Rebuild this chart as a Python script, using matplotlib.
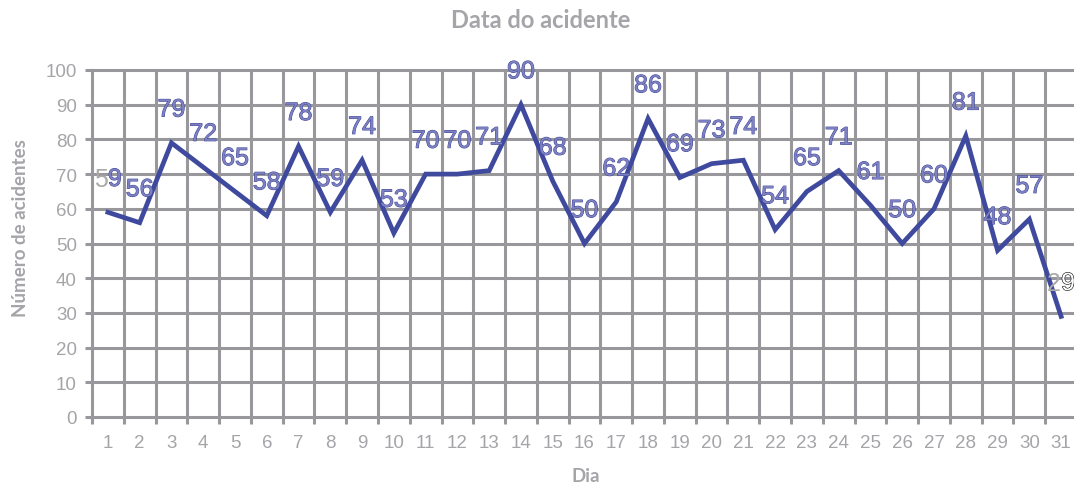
import matplotlib
matplotlib.use("Agg")
import matplotlib.pyplot as plt
import matplotlib.patheffects as pe
import numpy as np

# dados
dias = list(range(1, 32))
acidentes = [59, 56, 79, 72, 65, 58, 78, 59, 74, 53, 70, 70, 71, 90, 68, 50,
             62, 86, 69, 73, 74, 54, 65, 71, 61, 50, 60, 81, 48, 57, 29]
y_ticks = [0, 10, 20, 30, 40, 50, 60, 70, 80, 90, 100]

grid_col = '#98989c'
text_col = '#a5a5a9'
line_col = '#3f4a9e'
lab_fill = '#7d81c2'
lab_edge = '#3d4494'

fig = plt.figure(figsize=(10.74, 4.85), dpi=100)
ax = fig.add_axes([92 / 1074, 67 / 485, 985 / 1074, 347 / 485])

ax.plot(dias, acidentes, color=line_col, linewidth=3.4, solid_joinstyle='miter', zorder=3)

ax.set_xlim(0.5, 31.5)
ax.set_ylim(0, 100)
ax.set_yticks(y_ticks)
ax.set_xticks(dias)
ax.set_xticks(np.arange(0.5, 31.6, 1), minor=True)

ax.grid(False)
for v in y_ticks:
    ax.axhline(v, color=grid_col, linewidth=2.2, zorder=1, clip_on=False)
for v in np.arange(0.5, 31.6, 1):
    ax.axvline(v, color=grid_col, linewidth=2.2, zorder=1, clip_on=False)

for s in ax.spines.values():
    s.set_visible(False)

ax.tick_params(axis='x', which='major', length=0, pad=12, labelsize=13.5, labelcolor=text_col)
ax.tick_params(axis='x', which='minor', length=5, width=2.2, color=grid_col)
ax.tick_params(axis='y', length=5, width=2.2, color=grid_col, pad=6, labelsize=13.5, labelcolor=text_col)
for lab in ax.get_xticklabels() + ax.get_yticklabels():
    lab.set_family('Liberation Sans')

effects = [pe.Stroke(linewidth=0.7, foreground=lab_edge), pe.Normal()]
off = 24
fs = 18
for i, (d, v) in enumerate(zip(dias, acidentes)):
    s = str(v)
    if i == 0:
        ax.annotate(s[0], (d, v), xytext=(0, off), textcoords='offset points', ha='right', va='center',
                    fontsize=fs, family='Liberation Sans', color='#aaaaaa', zorder=4)
        ax.annotate(s[1], (d, v), xytext=(0, off), textcoords='offset points', ha='left', va='center',
                    fontsize=fs, family='Liberation Sans', color=lab_fill, path_effects=effects, zorder=4)
    elif i == len(dias) - 1:
        ax.annotate(s[0], (d, v), xytext=(0, off), textcoords='offset points', ha='right', va='center',
                    fontsize=fs, family='Liberation Sans', color='#aaaaaa', zorder=4)
        ax.annotate(s[1], (d, v), xytext=(0, off), textcoords='offset points', ha='left', va='center',
                    fontsize=fs, family='Liberation Sans', color='white',
                    path_effects=[pe.Stroke(linewidth=0.8, foreground='black'), pe.Normal()], zorder=4)
    else:
        ax.annotate(s, (d, v), xytext=(0, off), textcoords='offset points', ha='center', va='center',
                    fontsize=fs, family='Liberation Sans', color=lab_fill, path_effects=effects, zorder=4)

fig.text(0.503, 0.957, 'Data do acidente', ha='center', va='center', fontsize=17,
         fontweight='bold', family='Lato', color=text_col)
fig.text(0.545, 0.018, 'Dia', ha='center', va='center', fontsize=13.5,
         fontweight='bold', family='Lato', color=text_col)
fig.text(0.019, 0.53, 'Número de acidentes', ha='center', va='center', rotation=90, fontsize=13.5,
         fontweight='bold', family='Lato', color=text_col)

fig.savefig('out.png', dpi=100)
